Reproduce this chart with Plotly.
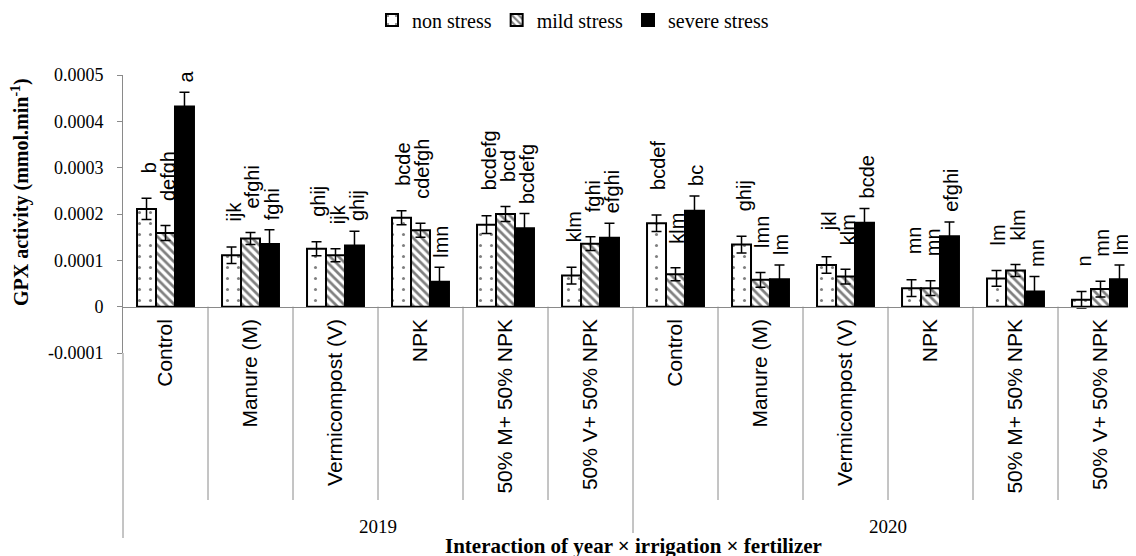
import plotly.graph_objects as go

# ---------------- data ----------------
categories = ["Control", "Manure (M)", "Vermicompost (V)", "NPK",
              "50% M+ 50% NPK", "50% V+ 50% NPK",
              "Control", "Manure (M)", "Vermicompost (V)", "NPK",
              "50% M+ 50% NPK", "50% V+ 50% NPK"]
years = ["2019", "2020"]
series_names = ["non stress", "mild stress", "severe stress"]

non_stress = [0.000211, 0.000111, 0.000125, 0.000192, 0.000177, 0.000067,
              0.000180, 0.000134, 0.000090, 0.000040, 0.000061, 0.000015]
mild_stress = [0.000159, 0.000147, 0.000111, 0.000165, 0.000200, 0.000136,
               0.000070, 0.000058, 0.000065, 0.000040, 0.000078, 0.000038]
severe_stress = [0.000432, 0.000135, 0.000132, 0.000054, 0.000169, 0.000149,
                 0.000207, 0.000059, 0.000181, 0.000152, 0.000033, 0.000059]

non_err = [0.000023, 0.000018, 0.000015, 0.000015, 0.000019, 0.000018,
           0.000018, 0.000018, 0.000018, 0.000018, 0.000017, 0.000018]
mild_err = [0.000016, 0.000013, 0.000014, 0.000015, 0.000016, 0.000015,
            0.000014, 0.000016, 0.000016, 0.000016, 0.000013, 0.000017]
severe_err = [0.000031, 0.000031, 0.000031, 0.000031, 0.000032, 0.000031,
              0.000032, 0.000031, 0.000031, 0.000031, 0.000032, 0.000031]

non_letters = ["b", "ijk", "ghij", "bcde", "bcdefg", "klm",
               "bcdef", "ghij", "jkl", "mn", "lm", "n"]
mild_letters = ["defgh", "efghi", "ijk", "cdefgh", "bcd", "fghi",
                "klm", "lmn", "klm", "mn", "klm", "mn"]
severe_letters = ["a", "fghi", "ghij", "lmn", "bcdefg", "efghi",
                  "bc", "lm", "bcde", "efghi", "mn", "lm"]

y_tick_vals = [-0.0001, 0, 0.0001, 0.0002, 0.0003, 0.0004, 0.0005]
y_tick_text = ["-0.0001", "0", "0.0001", "0.0002", "0.0003", "0.0004", "0.0005"]

# ---------------- styling / layout ----------------
SERIF = "Liberation Serif, Times New Roman, serif"
SANS = "Liberation Sans, Arial, sans-serif"
AXIS_GRAY = "#8a8a8a"
BARGAP = 0.33
CAT_PX = 85.0          # width of one category in pixels

W, H = 1136, 556
PAGE_OFF = 8           # default body margin of the html page
# plot area wanted on screen: left 123, top 75 (0.0005), bottom 353 (-0.0001)
ML = 123 - PAGE_OFF
MT = 75 - PAGE_OFF
MB = H - (353 - PAGE_OFF)
MR = 0
plot_w = W - ML - MR
plot_h = H - MT - MB
ymin, ymax = -0.0001, 0.0005
n = len(categories)
x_idx = list(range(n))


def paper_y(px):
    """screen pixel row -> paper y"""
    return (353 - px) / plot_h


def paper_x(px):
    """screen pixel column -> paper x"""
    return (px - 123) / plot_w


zero_paper = (0 - ymin) / (ymax - ymin)

fig = go.Figure()

styles = [
    dict(color="white", line=dict(color="black", width=2),
         pattern=dict(shape=".", fgcolor="black", bgcolor="white",
                      size=11, solidity=0.06)),
    dict(color="white", line=dict(color="black", width=2),
         pattern=dict(shape="\\", fgcolor="black", bgcolor="white",
                      size=6, solidity=0.45)),
    dict(color="black", line=dict(color="black", width=2)),
]
vals_all = [non_stress, mild_stress, severe_stress]
errs_all = [non_err, mild_err, severe_err]
letters_all = [non_letters, mild_letters, severe_letters]

for name, vals, errs, st in zip(series_names, vals_all, errs_all, styles):
    fig.add_trace(go.Bar(
        x=x_idx, y=vals, name=name, marker=st,
        error_y=dict(type="data", array=errs, visible=True,
                     color="black", thickness=1.5, width=5),
    ))

# significance letters above error bars
bar_w = (1 - BARGAP) / 3
lifts = [23, 22, 8]
for s, (vals, errs, letters) in enumerate(zip(vals_all, errs_all, letters_all)):
    off = (s - 1) * bar_w
    for i in range(n):
        fig.add_annotation(
            x=i + off, y=vals[i] + errs[i], xref="x", yref="y",
            text=letters[i], textangle=-90, showarrow=False,
            xanchor="center", yanchor="bottom", yshift=lifts[s], xshift=2,
            font=dict(family=SANS, size=20, color="black"),
        )

# year labels
for k, yr in enumerate(years):
    fig.add_annotation(
        x=k * 6 + 2.5, y=paper_y(526), xref="x", yref="paper",
        text=yr, showarrow=False, xanchor="center", yanchor="middle",
        font=dict(family=SERIF, size=19, color="black"),
    )

# axis titles
fig.add_annotation(
    x=paper_x(633), y=paper_y(546), xref="paper", yref="paper",
    text="<b>Interaction of year × irrigation × fertilizer</b>", showarrow=False,
    xanchor="center", yanchor="middle",
    font=dict(family=SERIF, size=21, color="black"),
)
fig.add_annotation(
    x=paper_x(20), y=paper_y(192), xref="paper", yref="paper",
    text="<b>GPX activity (mmol.min<sup>-1</sup>)</b>", showarrow=False,
    textangle=-90, xanchor="center", yanchor="middle",
    font=dict(family=SERIF, size=20, color="black"),
)

# category divider lines below the zero line
shapes = []
for k in range(n - 1):
    bottom = 533 if k == 5 else 500
    shapes.append(dict(type="line", xref="x", yref="paper",
                       x0=k + 0.5, x1=k + 0.5, y0=zero_paper, y1=paper_y(bottom),
                       line=dict(color=AXIS_GRAY, width=1)))
# extension of the value axis line down through the label area
shapes.append(dict(type="line", xref="paper", yref="paper",
                   x0=0, x1=0, y0=0, y1=paper_y(538),
                   line=dict(color=AXIS_GRAY, width=1)))

fig.update_layout(
    width=W, height=H,
    margin=dict(l=ML, r=MR, t=MT, b=MB, autoexpand=False),
    paper_bgcolor="white", plot_bgcolor="white",
    barmode="group", bargap=BARGAP, bargroupgap=0,
    shapes=shapes,
    legend=dict(orientation="h", x=paper_x(573), xanchor="center",
                y=paper_y(20), yanchor="middle",
                font=dict(family=SERIF, size=20, color="black"),
                itemwidth=30, tracegroupgap=0, bgcolor="rgba(0,0,0,0)"),
    xaxis=dict(
        range=[-0.5, -0.5 + plot_w / CAT_PX],
        anchor="free", position=zero_paper,
        tickmode="array", tickvals=x_idx, ticktext=categories,
        tickangle=-90, ticks="", showgrid=False, zeroline=False,
        showline=True, linecolor=AXIS_GRAY, linewidth=1,
        tickfont=dict(family=SANS, size=21, color="black"),
        ticklabelstandoff=3,
    ),
    yaxis=dict(
        range=[ymin, ymax], tickmode="array", tickvals=y_tick_vals,
        ticktext=y_tick_text, ticks="outside", ticklen=5, tickcolor=AXIS_GRAY,
        showgrid=False, zeroline=False, showline=True,
        linecolor=AXIS_GRAY, linewidth=1,
        tickfont=dict(family=SERIF, size=18, color="black"),
        ticklabelstandoff=10,
    ),
)

fig.write_html("out.html")
